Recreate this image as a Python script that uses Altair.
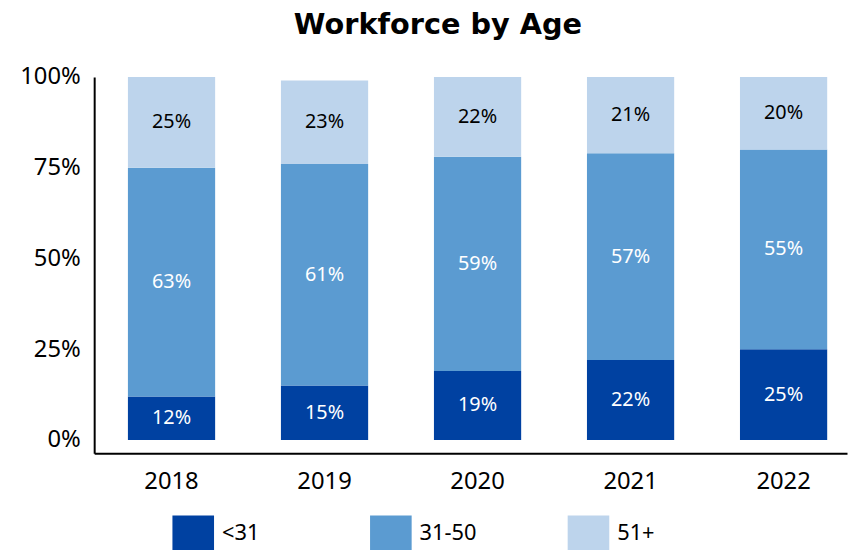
import altair as alt
import pandas as pd

years = ["2018", "2019", "2020", "2021", "2022"]
groups = ["<31", "31-50", "51+"]
under31 = [12, 15, 19, 22, 25]
mid31_50 = [63, 61, 59, 57, 55]
over51 = [25, 23, 22, 21, 20]
colors = ["#0041A1", "#5B9BD1", "#BDD4EC"]
text_colors = ["white", "white", "black"]

rows = []
for i, yr in enumerate(years):
    base = 0
    for g, vals, tc in zip(groups, [under31, mid31_50, over51], text_colors):
        v = vals[i]
        rows.append(dict(year=yr, group=g, v=v, start=base / 100, end=(base + v) / 100,
                         mid=(base + v / 2) / 100, label=f"{v}%", tc=tc))
        base += v
df = pd.DataFrame(rows)

FONT = "Noto Sans"

xenc = alt.X("year:N", sort=years,
             scale=alt.Scale(paddingInner=0.43, paddingOuter=0.175, align=0.63, round=False),
             axis=alt.Axis(title=None, labelAngle=0, ticks=False, domainColor="black", domainWidth=2,
                           labelFont=FONT, labelFontSize=24, labelColor="black", labelPadding=17))
yscale = alt.Scale(domain=[-0.0368, 1], nice=False, zero=False)

bars = alt.Chart(df).mark_bar().encode(
    x=xenc,
    y=alt.Y("start:Q", scale=yscale,
            axis=alt.Axis(title=None, format="%", values=[0, 0.25, 0.5, 0.75, 1], ticks=False, grid=False,
                          domainColor="black", domainWidth=2, labelFont=FONT, labelFontSize=24,
                          labelColor="black", labelPadding=14)),
    y2="end:Q",
    color=alt.Color("group:N", scale=alt.Scale(domain=groups, range=colors),
                    legend=alt.Legend(title=None, orient="none", legendX=79, legendY=439,
                                      direction="horizontal", columns=3, gridAlign="all",
                                      columnPadding=91.5, padding=0,
                                      symbolType="M-1,-0.833L1,-0.833L1,0.833L-1,0.833Z",
                                      symbolSize=1764, symbolStrokeWidth=0, symbolOpacity=1,
                                      labelFont=FONT, labelFontSize=22, labelColor="black",
                                      labelOffset=8)),
)

text = alt.Chart(df).mark_text(font=FONT, fontSize=20).encode(
    x=alt.X("year:N", sort=years),
    y=alt.Y("mid:Q", scale=yscale),
    text="label:N",
    color=alt.Color("tc:N", scale=None),
)

chart = alt.layer(bars, text).properties(
    width=760, height=380,
    title=alt.TitleParams("Workforce by Age", font="DejaVu Sans", fontSize=29, fontWeight="bold",
                          color="black", anchor="middle", offset=25, dx=-33),
    padding={"left": 87, "top": 67, "right": 1, "bottom": 95},
    autosize="none",
).configure_view(stroke=None)

chart.save("out.html", embed_options={"renderer": "svg", "actions": False})
